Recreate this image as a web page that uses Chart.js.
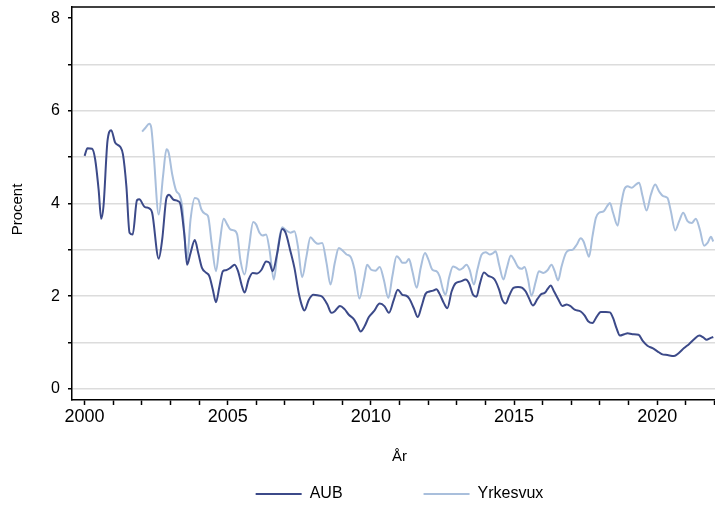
<!DOCTYPE html>
<html>
<head>
<meta charset="utf-8">
<script src="https://cdn.jsdelivr.net/npm/chart.js@4.4.1/dist/chart.umd.min.js"></script>
<style>
  html, body { margin: 0; padding: 0; background: #fff; overflow: hidden; }
  #wrap { width: 740px; height: 506px; }
</style>
</head>
<body>
<div id="wrap"><canvas id="c" width="740" height="506"></canvas></div>
<script>
// ---- data ----
const seriesNames = ['AUB', 'Yrkesvux'];

const aubYears = [2000.00,2000.10,2000.26,2000.37,2000.49,2000.58,2000.66,2000.80,2000.93,2001.07,
  2001.25,2001.34,2001.46,2001.57,2001.68,2001.83,2001.91,2002.09,2002.27,2002.36,
  2002.59,2002.71,2002.86,2002.95,2003.09,2003.27,2003.35,2003.49,2003.58,2003.70,
  2003.85,2003.97,2004.10,2004.24,2004.36,2004.48,2004.59,2004.71,2004.83,2004.94,
  2005.09,2005.24,2005.36,2005.50,2005.59,2005.73,2005.87,2006.03,2006.18,2006.34,
  2006.46,2006.57,2006.73,2006.90,2007.02,2007.19,2007.33,2007.48,2007.60,2007.68,
  2007.83,2007.99,2008.13,2008.30,2008.48,2008.62,2008.73,2008.92,2009.08,2009.23,
  2009.41,2009.52,2009.64,2009.78,2009.93,2010.10,2010.31,2010.48,2010.63,2010.80,
  2010.94,2011.10,2011.24,2011.35,2011.50,2011.64,2011.77,2011.91,2012.05,2012.17,
  2012.29,2012.40,2012.55,2012.67,2012.82,2012.96,2013.14,2013.31,2013.43,2013.57,
  2013.69,2013.80,2013.95,2014.10,2014.27,2014.36,2014.48,2014.59,2014.71,2014.83,
  2014.98,2015.14,2015.29,2015.41,2015.52,2015.66,2015.82,2015.96,2016.07,2016.17,
  2016.28,2016.40,2016.54,2016.69,2016.84,2016.96,2017.12,2017.33,2017.47,2017.59,
  2017.74,2017.89,2018.03,2018.21,2018.35,2018.46,2018.58,2018.70,2018.85,2018.97,
  2019.14,2019.35,2019.49,2019.66,2019.84,2020.01,2020.16,2020.36,2020.59,2020.75,
  2020.94,2021.12,2021.29,2021.47,2021.61,2021.73,2021.84,2021.96];
const aubValues = [5.03,5.19,5.18,4.95,4.30,3.67,3.94,5.35,5.58,5.31,
  5.22,5.06,4.37,3.37,3.33,4.07,4.09,3.93,3.89,3.80,
  2.81,3.22,4.12,4.19,4.09,4.05,3.98,3.29,2.68,2.93,
  3.21,2.93,2.61,2.51,2.43,2.14,1.87,2.21,2.54,2.56,
  2.61,2.68,2.54,2.21,2.08,2.36,2.50,2.49,2.57,2.75,
  2.72,2.54,2.93,3.45,3.37,2.97,2.61,2.07,1.78,1.69,
  1.92,2.03,2.02,1.99,1.82,1.64,1.67,1.79,1.72,1.60,
  1.50,1.38,1.24,1.35,1.55,1.67,1.84,1.78,1.64,1.92,
  2.14,2.03,2.01,1.94,1.74,1.55,1.78,2.05,2.10,2.12,
  2.15,2.05,1.85,1.74,2.10,2.28,2.32,2.36,2.28,2.03,
  1.99,2.25,2.51,2.44,2.39,2.32,2.14,1.92,1.84,2.01,
  2.18,2.20,2.18,2.10,1.96,1.80,1.94,2.05,2.07,2.15,
  2.23,2.10,1.94,1.79,1.82,1.79,1.71,1.67,1.58,1.46,
  1.42,1.56,1.66,1.66,1.65,1.53,1.31,1.15,1.18,1.20,
  1.18,1.17,1.04,0.93,0.88,0.81,0.75,0.73,0.71,0.77,
  0.88,0.97,1.07,1.15,1.11,1.06,1.09,1.12];

const yrkYears = [2002.01,2002.12,2002.26,2002.33,2002.41,2002.59,2002.74,2002.86,2002.94,2003.06,
  2003.20,2003.31,2003.41,2003.58,2003.70,2003.85,2003.97,2004.08,2004.20,2004.31,
  2004.45,2004.59,2004.72,2004.86,2004.98,2005.09,2005.21,2005.33,2005.44,2005.59,
  2005.73,2005.89,2005.99,2006.11,2006.22,2006.34,2006.46,2006.61,2006.76,2006.90,
  2007.04,2007.19,2007.33,2007.45,2007.60,2007.75,2007.89,2008.03,2008.15,2008.30,
  2008.45,2008.59,2008.74,2008.88,2009.00,2009.15,2009.29,2009.43,2009.60,2009.76,
  2009.87,2010.01,2010.16,2010.31,2010.45,2010.61,2010.75,2010.90,2011.01,2011.10,
  2011.21,2011.33,2011.45,2011.60,2011.74,2011.89,2012.01,2012.15,2012.29,2012.40,
  2012.52,2012.61,2012.73,2012.87,2012.99,2013.10,2013.22,2013.34,2013.45,2013.60,
  2013.72,2013.87,2014.01,2014.15,2014.27,2014.36,2014.48,2014.63,2014.75,2014.89,
  2015.00,2015.14,2015.26,2015.37,2015.49,2015.61,2015.76,2015.87,2016.03,2016.17,
  2016.31,2016.42,2016.54,2016.66,2016.81,2016.92,2017.04,2017.19,2017.33,2017.43,
  2017.54,2017.62,2017.74,2017.86,2017.97,2018.13,2018.24,2018.35,2018.46,2018.62,
  2018.73,2018.85,2018.97,2019.12,2019.26,2019.37,2019.49,2019.63,2019.78,2019.93,
  2020.07,2020.21,2020.36,2020.48,2020.63,2020.77,2020.91,2021.06,2021.21,2021.35,
  2021.49,2021.64,2021.76,2021.88,2021.96];
const yrkValues = [5.55,5.63,5.72,5.63,5.09,3.76,4.59,5.17,5.09,4.63,
  4.27,4.19,3.94,2.79,3.65,4.12,4.09,3.87,3.78,3.73,
  3.08,2.54,3.15,3.67,3.55,3.44,3.42,3.33,2.79,2.47,
  3.00,3.60,3.55,3.37,3.31,3.33,3.00,2.36,3.08,3.49,
  3.42,3.37,3.40,3.08,2.41,2.86,3.27,3.18,3.13,3.15,
  2.72,2.25,2.72,3.04,2.99,2.90,2.85,2.57,1.95,2.36,
  2.68,2.57,2.55,2.63,2.36,1.96,2.43,2.86,2.80,2.72,
  2.72,2.80,2.54,2.18,2.61,2.93,2.79,2.57,2.54,2.43,
  2.14,2.03,2.39,2.64,2.61,2.57,2.61,2.68,2.57,2.25,
  2.57,2.90,2.95,2.90,2.93,2.97,2.68,2.36,2.61,2.88,
  2.79,2.63,2.59,2.63,2.36,2.01,2.32,2.54,2.50,2.56,
  2.68,2.54,2.34,2.64,2.93,2.99,3.00,3.11,3.25,3.18,
  2.97,2.85,3.29,3.69,3.80,3.83,3.93,4.01,3.80,3.52,
  3.94,4.30,4.37,4.34,4.41,4.45,4.16,3.85,4.19,4.41,
  4.26,4.16,4.12,3.83,3.42,3.62,3.80,3.62,3.58,3.67,
  3.44,3.09,3.15,3.28,3.18];

const xTickYears = [2000,2001,2002,2003,2004,2005,2006,2007,2008,2009,2010,2011,
  2012,2013,2014,2015,2016,2017,2018,2019,2020,2021,2022];
const yTickValues = [0,1,2,3,4,5,6,7,8];

const xTitle = 'År';
const yTitle = 'Procent';

// ---- chart ----
const pairs = (xs, ys) => xs.map((x, i) => ({ x: x, y: ys[i] })).filter(p => p.y !== undefined);

const AUB_COLOR = '#3c4a89';
const YRK_COLOR = '#a9bfdc';
const FONT = '"Liberation Sans", Arial, Helvetica, sans-serif';

Chart.defaults.font.family = FONT;
Chart.defaults.color = '#000';

// top frame line of the plot region + y-axis title (placed slightly below centre as in the original)
const frameAndTitle = {
  id: 'frameAndTitle',
  afterDraw(chart) {
    const a = chart.chartArea, ctx = chart.ctx;
    ctx.save();
    ctx.strokeStyle = '#000';
    ctx.lineWidth = 1.5;
    ctx.beginPath();
    ctx.moveTo(a.left, a.top);
    ctx.lineTo(a.right, a.top);
    ctx.stroke();
    ctx.translate(18, (a.top + a.bottom) / 2 + 6);
    ctx.rotate(-Math.PI / 2);
    ctx.fillStyle = '#000';
    ctx.font = '15px ' + FONT;
    ctx.textAlign = 'center';
    ctx.textBaseline = 'middle';
    ctx.fillText(yTitle, 0, 0);
    ctx.restore();
  }
};

new Chart(document.getElementById('c'), {
  type: 'line',
  data: {
    datasets: [
      { label: seriesNames[0], data: pairs(aubYears, aubValues), borderColor: AUB_COLOR,
        backgroundColor: AUB_COLOR, borderWidth: 2, pointRadius: 0, fill: false,
        cubicInterpolationMode: 'monotone' },
      { label: seriesNames[1], data: pairs(yrkYears, yrkValues), borderColor: YRK_COLOR,
        backgroundColor: YRK_COLOR, borderWidth: 2, pointRadius: 0, fill: false,
        cubicInterpolationMode: 'monotone' }
    ]
  },
  options: {
    responsive: false,
    animation: false,
    devicePixelRatio: 1,
    layout: { padding: { top: 7, right: 13, left: 0, bottom: -6 } },
    plugins: {
      tooltip: { enabled: false },
      legend: {
        position: 'bottom',
        fullSize: false,
        labels: {
          boxWidth: 46,
          boxHeight: 2,
          padding: 81,
          font: { size: 16 },
          color: '#000',
          generateLabels(chart) {
            const items = Chart.defaults.plugins.legend.labels.generateLabels(chart);
            items.forEach(it => { it.fillStyle = it.strokeStyle; it.lineWidth = 0; });
            return items;
          }
        }
      }
    },
    scales: {
      x: {
        type: 'linear',
        position: 'bottom',
        min: 1999.56,
        max: 2022.44,
        afterBuildTicks(scale) { scale.ticks = xTickYears.map(v => ({ value: v })); },
        afterFit(scale) { scale.height = 5; scale.paddingLeft = 0; scale.paddingRight = 0; },
        ticks: {
          autoSkip: false, maxRotation: 0, minRotation: 0,
          mirror: true,
          padding: -28,
          font: { size: 18 },
          color: '#000',
          callback: v => (v % 5 === 0 ? String(v) : '')
        },
        grid: { drawOnChartArea: false, drawTicks: true, tickLength: 5, tickColor: '#000', tickWidth: 1.5 },
        border: { display: true, color: '#000', width: 1.5 },
        title: { display: true, text: xTitle, font: { size: 15 }, color: '#000', padding: { top: 0, bottom: -61 } }
      },
      y: {
        type: 'linear',
        min: -0.24,
        max: 8.24,
        afterBuildTicks(scale) { scale.ticks = yTickValues.map(v => ({ value: v })); },
        afterFit(scale) { scale.width = 72; scale.paddingTop = 0; scale.paddingBottom = 0; },
        ticks: {
          padding: 8,
          font: { size: 16 },
          color: '#000',
          callback: v => (v % 2 === 0 ? String(v) : '')
        },
        grid: {
          color: ctx => (ctx.tick && ctx.tick.value === 8 ? 'rgba(0,0,0,0)' : '#dcdcdc'),
          lineWidth: 1.5,
          drawTicks: true,
          tickLength: 4,
          tickColor: '#000',
          tickWidth: 1.5
        },
        border: { display: true, color: '#000', width: 1.5 },
        title: { display: false }
      }
    }
  },
  plugins: [frameAndTitle]
});
</script>
</body>
</html>
